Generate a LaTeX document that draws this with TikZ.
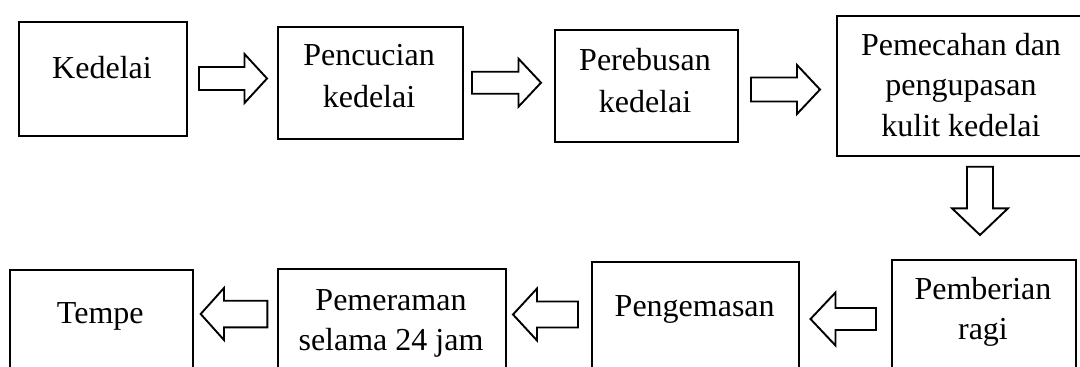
\documentclass[tikz,border=0pt]{standalone}
\usepackage{fontspec}
\setmainfont{Liberation Serif}
\tikzset{
  stepbox/.style={draw=black, line width=2.1pt, fill=none, inner sep=0pt, anchor=north west},
  lbl/.style={anchor=base, inner sep=0pt, font=\fontsize{32}{38}\selectfont},
  blockarrow/.style={draw=black, line width=1.9pt, line join=miter, fill=white},
}
% box node: name, left x, top y, right x, bottom y
\newcommand{\stepnode}[5]{\node[stepbox, minimum width={#4-#2}, minimum height={#5-#3}] (#1) at (#2,#3) {};}
% horizontal block arrow: name, tail x, tip x, centre y, head base x, shaft half, head half
\newcommand{\harrow}[7]{\draw[blockarrow] (#2,#4-#6) coordinate (#1) -- (#5,#4-#6) -- (#5,#4-#7) -- (#3,#4) -- (#5,#4+#7) -- (#5,#4+#6) -- (#2,#4+#6) -- cycle;}
% vertical block arrow: name, tail y, tip y, centre x, head base y, shaft half, head half
\newcommand{\varrow}[7]{\draw[blockarrow] (#4-#6,#2) coordinate (#1) -- (#4-#6,#5) -- (#4-#7,#5) -- (#4,#3) -- (#4+#7,#5) -- (#4+#6,#5) -- (#4+#6,#2) -- cycle;}
\begin{document}
\begin{tikzpicture}[x=1pt,y=-1pt]
\useasboundingbox (0,0) rectangle (1080,367);
\clip (0,0) rectangle (1080,367);
% boxes
\stepnode{kedelai}{18}{20.7}{186}{135.3}
\stepnode{pencucian}{276.5}{25.8}{461.7}{137.8}
\stepnode{perebusan}{553.8}{29.3}{736.5}{141.2}
\stepnode{pemecahan}{835.5}{15}{1086}{155}
\stepnode{pemberian}{891.3}{259}{1074.5}{400}
\stepnode{pengemasan}{591}{261}{798.3}{400}
\stepnode{pemeraman}{276.6}{268}{505.2}{400}
\stepnode{tempe}{8.6}{269}{192}{400}
% texts
\node[lbl] (t1) at (102,78.5) {Kedelai};
\node[lbl] (t2a) at (369,65.5) {Pencucian};
\node[lbl] (t2b) at (369,107) {kedelai};
\node[lbl] (t3a) at (645,70.6) {Perebusan};
\node[lbl] (t3b) at (645,112) {kedelai};
\node[lbl] (t4a) at (961,55) {Pemecahan dan};
\node[lbl] (t4b) at (961,95.5) {pengupasan};
\node[lbl] (t4c) at (961,136) {kulit kedelai};
\node[lbl] (t5a) at (983,299) {Pemberian};
\node[lbl] (t5b) at (983,339) {ragi};
\node[lbl] (t6) at (694.7,316) {Pengemasan};
\node[lbl] (t7a) at (391,310) {Pemeraman};
\node[lbl] (t7b) at (391,350) {selama 24 jam};
\node[lbl] (t8) at (100.3,323) {Tempe};
% block arrows
\harrow{a1}{199}{267}{78.5}{244.5}{11.5}{24.5}
\harrow{a2}{472}{541}{82.7}{518.5}{11}{24}
\harrow{a3}{751}{820}{89.5}{797}{12}{24.5}
\varrow{a4}{166.7}{235}{980}{208.3}{13}{28}
\harrow{a5}{876}{810.5}{319}{835.5}{11}{26.5}
\harrow{a6}{578}{513}{314.5}{537}{13}{26}
\harrow{a7}{267.3}{200.7}{314}{224}{13.3}{26}
\end{tikzpicture}
\end{document}
